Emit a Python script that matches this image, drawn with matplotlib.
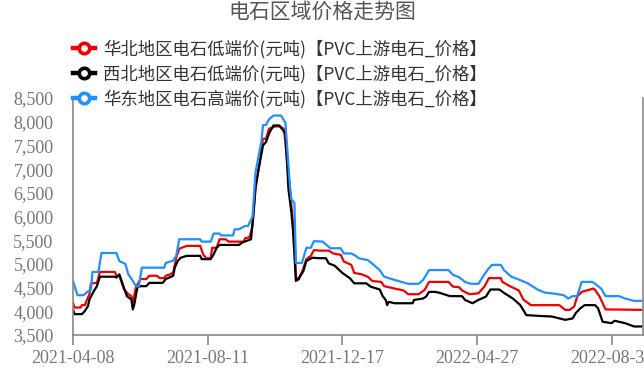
import matplotlib
matplotlib.use('Agg')
import matplotlib.pyplot as plt
from matplotlib.ticker import FuncFormatter

plt.rcParams['font.family'] = ['Noto Sans CJK SC', 'DejaVu Sans']

# 标签
title = '电石区域价格走势图'
names = ['华北地区电石低端价(元吨)【PVC上游电石_价格】',
         '西北地区电石低端价(元吨)【PVC上游电石_价格】',
         '华东地区电石高端价(元吨)【PVC上游电石_价格】']
tick_labels = ['2021-04-08', '2021-08-11', '2021-12-17', '2022-04-27', '2022-08-31']
tick_idx = [0, 90, 180, 270, 360]

# 华北 低端价 (交易日序号, 价格)
north_x = [0, 1, 5, 6, 8, 9, 11, 12, 16, 18, 28, 29, 31, 34, 37, 39, 40, 42, 45, 49,
           51, 56, 58, 61, 62, 65, 67, 69, 71, 76, 85, 87, 89, 92, 93, 96, 98, 102, 104,
           114, 115, 118, 120, 122, 127, 129, 131, 135, 138, 141, 145, 147, 148, 149,
           151, 153, 156, 159, 161, 165, 171, 174, 179, 181, 186, 188, 193, 197, 200,
           206, 208, 215, 221, 224, 231, 235, 238, 251, 254, 258, 260, 265, 271, 275,
           278, 286, 287, 292, 298, 301, 306, 325, 329, 332, 335, 337, 340, 348, 349,
           352, 356, 380]
north_y = [4180, 4080, 4080, 4130, 4130, 4220, 4360, 4590, 4600, 4830, 4830, 4750, 4750,
           4470, 4360, 4320, 4180, 4500, 4680, 4680, 4750, 4750, 4700, 4700, 4750, 4780,
           4820, 5130, 5320, 5380, 5380, 5200, 5120, 5120, 5340, 5340, 5520, 5520, 5470,
           5470, 5540, 5560, 5800, 6580, 7640, 7640, 7850, 7900, 7900, 7850, 6580, 5870,
           5800, 4680, 4710, 4820, 5100, 5170, 5290, 5280, 5280, 5220, 5190, 5050, 4980,
           4810, 4780, 4730, 4640, 4620, 4530, 4480, 4440, 4360, 4360, 4450, 4620, 4620,
           4520, 4510, 4440, 4360, 4380, 4520, 4700, 4700, 4620, 4530, 4440, 4250, 4130,
           4130, 4030, 4030, 4100, 4310, 4410, 4480, 4450, 4310, 4040, 4030]

# 西北 低端价
west_x = [0, 1, 6, 8, 10, 11, 14, 16, 18, 28, 29, 31, 34, 36, 39, 40, 41, 43, 45, 49,
          51, 60, 62, 67, 68, 70, 72, 76, 85, 86, 92, 94, 96, 98, 111, 113, 119, 121,
          122, 127, 129, 131, 134, 138, 142, 144, 146, 147, 149, 151, 152, 154, 156,
          160, 165, 169, 171, 175, 178, 180, 185, 188, 196, 199, 205, 207, 209, 210,
          211, 215, 227, 228, 234, 236, 238, 242, 245, 252, 260, 262, 267, 271, 276,
          279, 285, 288, 294, 299, 303, 313, 320, 329, 334, 336, 339, 342, 349, 351,
          354, 360, 362, 369, 375, 380]
west_y = [4040, 3940, 3940, 4010, 4110, 4250, 4430, 4530, 4730, 4730, 4710, 4780, 4500,
          4320, 4250, 4040, 4150, 4500, 4530, 4530, 4600, 4600, 4680, 4750, 4920, 5060,
          5130, 5170, 5170, 5100, 5100, 5200, 5340, 5400, 5400, 5450, 5520, 6220, 6640,
          7500, 7570, 7750, 7920, 7920, 7750, 6580, 6080, 5730, 4640, 4680, 4750, 4850,
          5060, 5130, 5120, 5120, 5010, 4960, 4870, 4810, 4700, 4590, 4590, 4520, 4460,
          4320, 4240, 4130, 4200, 4170, 4170, 4240, 4270, 4310, 4410, 4410, 4390, 4320,
          4320, 4240, 4170, 4240, 4310, 4460, 4460, 4390, 4270, 4130, 3920, 3900, 3890,
          3820, 3850, 3960, 4060, 4130, 4130, 4060, 3780, 3750, 3800, 3750, 3680, 3680]

# 华东 高端价
east_x = [0, 3, 7, 10, 12, 13, 17, 19, 29, 31, 35, 37, 40, 42, 44, 46, 47, 61, 62, 67,
          69, 71, 85, 86, 92, 94, 98, 99, 107, 108, 111, 115, 117, 120, 122, 126, 127,
          129, 131, 134, 139, 142, 145, 146, 148, 149, 153, 156, 159, 161, 167, 172,
          179, 181, 186, 189, 191, 197, 201, 205, 208, 214, 224, 231, 234, 238, 251,
          254, 258, 262, 266, 271, 274, 277, 280, 286, 288, 293, 298, 304, 311, 316,
          320, 328, 331, 334, 337, 340, 347, 349, 353, 356, 365, 369, 375, 380]
east_y = [4640, 4340, 4340, 4420, 4450, 4830, 4830, 5230, 5230, 5060, 5000, 4780, 4640,
          4530, 4520, 4920, 4920, 4920, 5020, 5070, 5170, 5520, 5520, 5470, 5470, 5640,
          5640, 5600, 5600, 5730, 5730, 5800, 5800, 6000, 6930, 7600, 7930, 7930, 8050,
          8130, 8130, 7980, 6640, 6360, 6290, 5020, 5020, 5340, 5340, 5480, 5470, 5330,
          5330, 5220, 5220, 5170, 5120, 5080, 4980, 4870, 4730, 4670, 4580, 4580, 4660,
          4870, 4870, 4770, 4720, 4620, 4580, 4580, 4730, 4870, 4980, 4980, 4870, 4730,
          4670, 4590, 4450, 4390, 4380, 4340, 4270, 4320, 4320, 4620, 4620, 4580, 4480,
          4320, 4320, 4270, 4220, 4220]

colors = ['#f00000', '#000000', '#1e90ff']

fig = plt.figure(figsize=(6.44, 3.69), dpi=100)
ax = fig.add_axes([73 / 644, 1 - 335 / 369, 570 / 644, 237 / 369])

series = [(north_x, north_y), (west_x, west_y), (east_x, east_y)]
handles = []
for (xs, ys), c, n in zip(series, colors, names):
    ax.plot(xs, ys, color=c, lw=1.6)
    h, = ax.plot([], [], color=c, lw=3.2, marker='o', ms=7.5, mfc='white', mec=c, mew=2.6, label=n)
    handles.append(h)

ax.set_xlim(0, 381)
ax.set_ylim(3500, 8500)
ax.set_yticks(range(3500, 8501, 500))
ax.yaxis.set_major_formatter(FuncFormatter(lambda v, p: f'{int(v):,}'))
ax.set_xticks(tick_idx)
ax.set_xticklabels(tick_labels)

for s in ['left', 'bottom', 'right']:
    ax.spines[s].set_color('#888888')
    ax.spines[s].set_linewidth(1.2)
ax.spines['top'].set_visible(False)
ax.tick_params(axis='y', length=0, pad=14, colors='#888888', labelcolor='#777777')
ax.tick_params(axis='x', length=7, width=1.2, colors='#888888', labelcolor='#777777', pad=4)
for lab in ax.get_xticklabels() + ax.get_yticklabels():
    lab.set_fontfamily('Liberation Serif')
    lab.set_fontsize(13)

fig.text(0.5, 1 - 12 / 369, title, ha='center', va='center', fontsize=15, color='#555555')

leg = fig.legend(handles=handles, loc='center left', bbox_to_anchor=(64 / 644, 1 - 74 / 369),
                 frameon=False, fontsize=12.5, handlelength=1.3, handletextpad=0.45,
                 labelspacing=0.37, borderpad=0)
for t in leg.get_texts():
    t.set_color('#333333')

fig.savefig('out.png', dpi=100)
